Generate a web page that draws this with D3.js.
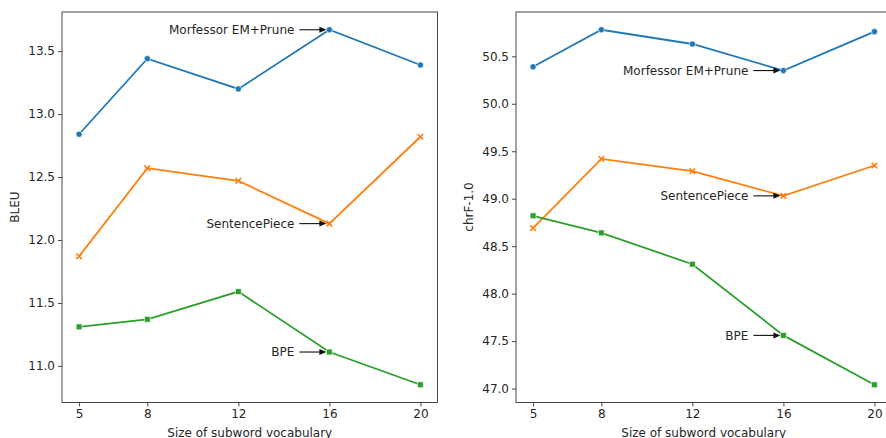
<!DOCTYPE html>
<html>
<head>
<meta charset="utf-8">
<script src="https://cdn.jsdelivr.net/npm/d3@7"></script>
<style>
  body { margin: 0; background: #fff; }
  svg { display: block; overflow: hidden; }
  text { font-family: "DejaVu Sans", sans-serif; fill: #262626; }
</style>
</head>
<body>
<div id="chart"></div>
<script>
// vocabulary sizes (thousands)
const vocab = [5, 8, 12, 16, 20];
const methods = ["Morfessor EM+Prune", "SentencePiece", "BPE"];

// BLEU
const bleuMorfessor = [12.84, 13.44, 13.20, 13.67, 13.39];
const bleuSentencePiece = [11.87, 12.57, 12.47, 12.13, 12.82];
const bleuBPE = [11.31, 11.37, 11.59, 11.11, 10.85];

// chrF-1.0
const chrfMorfessor = [50.39, 50.78, 50.63, 50.35, 50.76];
const chrfSentencePiece = [48.69, 49.42, 49.29, 49.03, 49.35];
const chrfBPE = [48.82, 48.64, 48.31, 47.56, 47.04];

const bleuTicks = [11.0, 11.5, 12.0, 12.5, 13.0, 13.5];
const chrfTicks = [47.0, 47.5, 48.0, 48.5, 49.0, 49.5, 50.0, 50.5];

const annotateAt = 16;

const colors = ["#1f77b4", "#ff7f0e", "#2ca02c"];
const symbols = [d3.symbolCircle, d3.symbolX, d3.symbolSquare];

const W = 886, H = 438;
const svg = d3.select("#chart").append("svg")
    .attr("width", W)
    .attr("height", H);

function panel(opts) {
    const series = opts.series;
    const x = d3.scaleLinear()
        .domain([4.25, 20.75])
        .range([opts.left, opts.right]);
    // matplotlib style 5% margins
    const all = series.flat();
    const lo = d3.min(all), hi = d3.max(all), pad = (hi - lo) * 0.05;
    const y = d3.scaleLinear()
        .domain([lo - pad, hi + pad])
        .range([402.5, 12]);

    const g = svg.append("g");

    // axes
    const xAxis = d3.axisBottom(x).tickValues(vocab).tickSize(4).tickPadding(3).tickFormat(d3.format("d"));
    const yAxis = d3.axisLeft(y).tickValues(opts.ticks).tickSize(4).tickPadding(3).tickFormat(d3.format(".1f"));

    g.append("g")
        .attr("transform", `translate(0,402.5)`)
        .call(xAxis)
        .call(a => a.select(".domain").remove());
    g.append("g")
        .attr("transform", `translate(${opts.left},0)`)
        .call(yAxis)
        .call(a => a.select(".domain").remove());
    g.selectAll(".tick line").attr("stroke", "#333").attr("stroke-width", 0.9);
    g.selectAll(".tick text")
        .attr("font-size", 12)
        .attr("font-family", "DejaVu Sans")
        .attr("fill", "#262626");

    // frame
    g.append("rect")
        .attr("x", opts.left)
        .attr("y", 12)
        .attr("width", opts.right - opts.left)
        .attr("height", 390.5)
        .attr("fill", "none")
        .attr("stroke", "#333")
        .attr("stroke-width", 0.9);

    // axis labels
    g.append("text")
        .attr("x", (opts.left + opts.right) / 2)
        .attr("y", 437)
        .attr("text-anchor", "middle")
        .attr("font-size", 12)
        .text("Size of subword vocabulary");
    g.append("text")
        .attr("transform", `translate(${opts.yLabelX},207) rotate(-90)`)
        .attr("text-anchor", "middle")
        .attr("font-size", 12)
        .text(opts.yLabel);

    const line = d3.line()
        .x((d, i) => x(vocab[i]))
        .y(d => y(d));

    series.forEach((s, k) => {
        g.append("path")
            .datum(s)
            .attr("d", line)
            .attr("fill", "none")
            .attr("stroke", colors[k])
            .attr("stroke-width", 1.8);

        const sym = d3.symbol().type(symbols[k]).size(k === 1 ? 22 : (k === 0 ? 30 : 34));
        g.selectAll(null)
            .data(s)
            .join("path")
            .attr("transform", (d, i) => `translate(${x(vocab[i])},${y(d)})`)
            .attr("d", sym)
            .attr("fill", k === 1 ? "none" : colors[k])
            .attr("stroke", k === 1 ? colors[k] : "#fff")
            .attr("stroke-width", k === 1 ? 1.6 : 0.6);
    });

    // annotations
    const idx = vocab.indexOf(annotateAt);
    series.forEach((s, k) => {
        const px = x(annotateAt), py = y(s[idx]);
        g.append("text")
            .attr("x", px - 35)
            .attr("y", py)
            .attr("dy", "0.35em")
            .attr("text-anchor", "end")
            .attr("font-size", 12)
            .text(methods[k]);
        g.append("line")
            .attr("x1", px - 30)
            .attr("x2", px - 9)
            .attr("y1", py)
            .attr("y2", py)
            .attr("stroke", "#111")
            .attr("stroke-width", 1.1);
        g.append("path")
            .attr("d", `M${px - 3},${py} L${px - 10},${py - 3} L${px - 10},${py + 3} Z`)
            .attr("fill", "#111");
    });
}

panel({
    left: 62, right: 437.5,
    series: [bleuMorfessor, bleuSentencePiece, bleuBPE],
    ticks: bleuTicks,
    yLabel: "BLEU", yLabelX: 19
});
panel({
    left: 516, right: 891.5,
    series: [chrfMorfessor, chrfSentencePiece, chrfBPE],
    ticks: chrfTicks,
    yLabel: "chrF-1.0", yLabelX: 473
});
</script>
</body>
</html>
